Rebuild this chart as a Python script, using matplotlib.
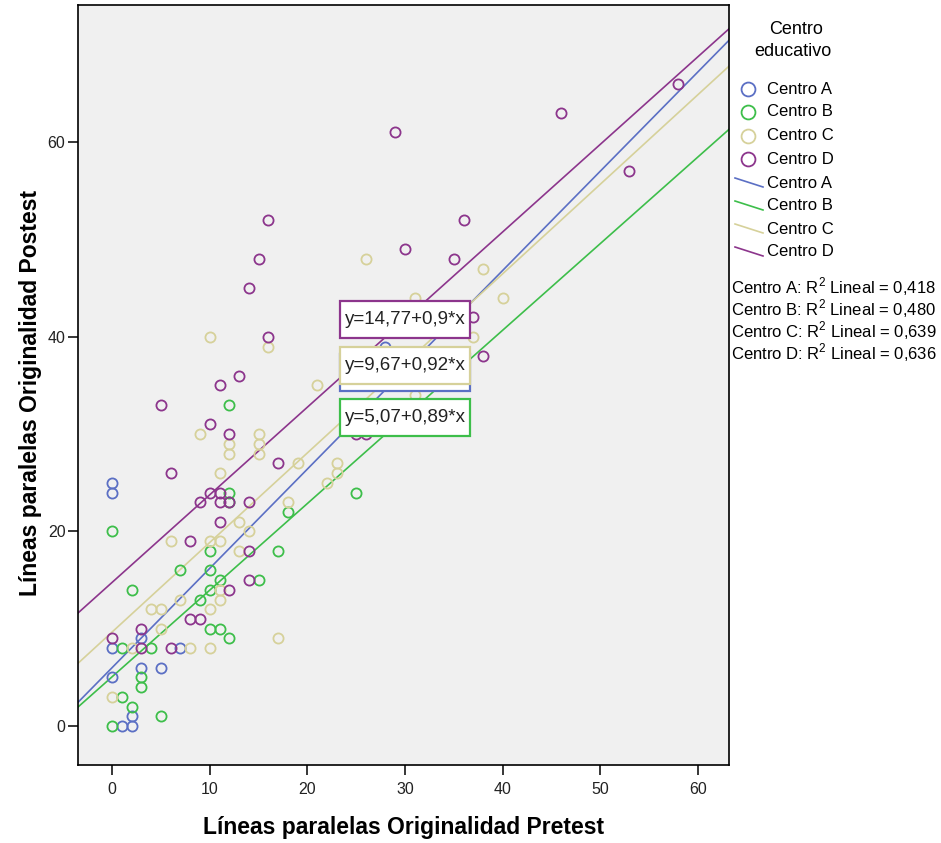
import matplotlib
matplotlib.use("Agg")
import matplotlib.pyplot as plt
from matplotlib.lines import Line2D
from matplotlib.patches import Rectangle

plt.rcParams['font.family'] = ['Liberation Sans', 'DejaVu Sans']
plt.rcParams['mathtext.fontset'] = 'custom'
plt.rcParams['mathtext.rm'] = 'Liberation Sans'

# data
centros = ['Centro A', 'Centro B', 'Centro C', 'Centro D']
colors = ['#5B6FC4', '#3DBE4A', '#D6D19A', '#8C358C']

a_x = [0, 0, 0, 0, 1, 2, 2, 3, 3, 5, 7, 28]
a_y = [25, 24, 8, 5, 0, 0, 1, 9, 6, 6, 8, 39]

b_x = [0, 0, 1, 1, 2, 2, 3, 3, 4, 5, 7, 9, 10, 10, 10, 10, 11, 11, 12, 12, 12, 12, 15, 17, 18, 25]
b_y = [0, 20, 3, 8, 2, 14, 4, 5, 8, 1, 16, 13, 18, 16, 14, 10, 10, 15, 9, 24, 23, 33, 15, 18, 22, 24]

c_x = [0, 2, 8, 10, 5, 4, 5, 10, 7, 11, 11, 17, 6, 10, 11, 13, 14, 13, 18, 22, 23, 23, 19, 11,
       12, 12, 15, 15, 15, 9, 21, 10, 16, 26, 31, 31, 37, 38, 40]
c_y = [3, 8, 8, 8, 10, 12, 12, 12, 13, 13, 14, 9, 19, 19, 19, 18, 20, 21, 23, 25, 26, 27, 27, 26,
       28, 29, 28, 29, 30, 30, 35, 40, 39, 48, 44, 34, 40, 47, 44]

d_x = [0, 3, 3, 6, 8, 9, 8, 9, 10, 11, 11, 12, 14, 11, 14, 14, 12, 10, 12, 11, 13, 5, 6, 17,
       14, 15, 16, 16, 25, 26, 29, 30, 35, 36, 37, 38, 46, 53, 58]
d_y = [9, 10, 8, 8, 11, 11, 19, 23, 24, 24, 23, 23, 23, 21, 18, 15, 14, 31, 30, 35, 36, 33, 26, 27,
       45, 48, 52, 40, 30, 30, 61, 49, 48, 52, 42, 38, 63, 57, 66]

intercepts = [6.01, 5.07, 9.67, 14.77]
slopes = [1.02, 0.89, 0.92, 0.90]
eq_labels = ['y=6,01+1,02*x', 'y=5,07+0,89*x', 'y=9,67+0,92*x', 'y=14,77+0,9*x']
r2_values = ['0,418', '0,480', '0,639', '0,636']

xs = [a_x, b_x, c_x, d_x]
ys = [a_y, b_y, c_y, d_y]

W, H = 941, 843
fig = plt.figure(figsize=(W / 100, H / 100), dpi=100)
ax = fig.add_axes([78 / W, 1 - 765 / H, (729 - 78) / W, (765 - 5) / H])
ax.set_facecolor('#F0F0F0')

for x, y, c in zip(xs, ys, colors):
    ax.plot(x, y, 'o', mfc='none', mec=c, ms=7.3, mew=1.3, zorder=3)

for b, m, c in zip(intercepts, slopes, colors):
    ax.axline((0, b), slope=m, color=c, lw=1.2, zorder=2)

ax.set_xlim(-3.5, 63.2)
ax.set_ylim(-4.0, 74.1)
ax.set_xticks(range(0, 61, 10))
ax.set_yticks([0, 20, 40, 60])
ax.tick_params(axis='both', length=7, width=1.1, labelsize=11.5, color='black', labelcolor='#222222')
ax.tick_params(axis='x', pad=5)
ax.tick_params(axis='y', pad=2)
for s in ax.spines.values():
    s.set_linewidth(1.2)
    s.set_color('black')

ax.set_xlabel('Líneas paralelas Originalidad Pretest', fontsize=16.5, fontweight='bold')
ax.set_ylabel('Líneas paralelas Originalidad Postest', fontsize=16.5, fontweight='bold')
ax.xaxis.set_label_coords(0.5, -0.0816)
ax.yaxis.set_label_coords(-0.0737, 0.49)
ax.xaxis.label.set_va('center')
ax.yaxis.label.set_va('center')

# equation boxes (blue hidden behind yellow)
box_y = [36.33, 31.76, 37.05, 41.83]
bw, bh = 13.4, 3.8
for i in [0, 1, 2, 3]:
    ax.add_patch(Rectangle((30 - bw / 2, box_y[i] - bh / 2), bw, bh, facecolor='white',
                           edgecolor=colors[i], lw=1.6, zorder=5 + i))
    ax.text(30, box_y[i], eq_labels[i], ha='center', va='center', fontsize=13.5,
            color='#222222', zorder=5 + i)

# legend drawn by hand
def fx(px):
    return px / W

def fy(py):
    return 1 - py / H

fig.text(fx(796), fy(30), 'Centro', ha='center', va='center', fontsize=13)
fig.text(fx(793), fy(51), 'educativo', ha='center', va='center', fontsize=13)
marker_rows = [89, 112, 136, 159]
line_rows = [183, 206, 229, 252]
for i, name in enumerate(centros):
    fig.add_artist(Line2D([fx(748)], [fy(marker_rows[i])], marker='o', mfc='none',
                          mec=colors[i], ms=10, mew=1.3))
    fig.text(fx(767), fy(marker_rows[i]), name, ha='left', va='center', fontsize=12)
    fig.add_artist(Line2D([fx(735), fx(763)], [fy(line_rows[i] - 5), fy(line_rows[i] + 4)],
                          color=colors[i], lw=1.2))
    fig.text(fx(767), fy(line_rows[i]), name, ha='left', va='center', fontsize=12)

r2_rows = [287, 309, 331, 353]
for i, name in enumerate(centros):
    fig.text(fx(731), fy(r2_rows[i]), name + ': R$^{2}$ Lineal = ' + r2_values[i],
             ha='left', va='center', fontsize=12)

fig.savefig('out.png', dpi=100, facecolor='white')
